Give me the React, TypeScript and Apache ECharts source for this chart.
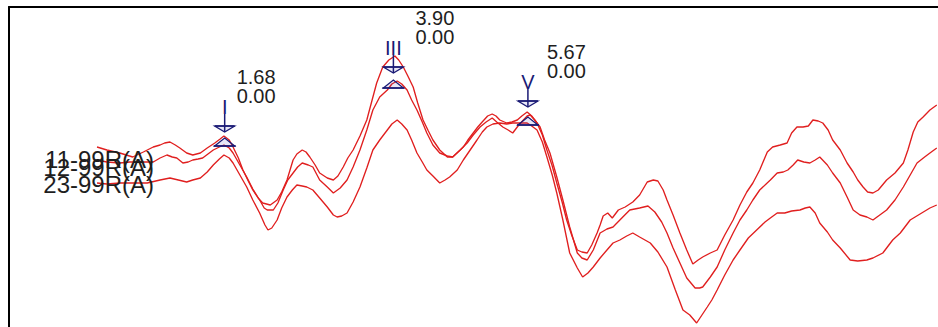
import React, { useEffect, useRef } from "react";
import * as echarts from "echarts";

// ---- Data (time in ms, amplitude in µV) ----
const traceNames = ["11-99R(A)", "12-99R(A)", "23-99R(A)"];

const trace11: number[][] = [
  [0, 0.23], [0.13, 0.2], [0.3, 0.17], [0.47, 0.13], [0.61, 0.18], [0.74, 0.23], [0.83, 0.25], [0.89, 0.27],
  [0.96, 0.28], [1.03, 0.25], [1.09, 0.22], [1.18, 0.17], [1.26, 0.15], [1.36, 0.17], [1.45, 0.22], [1.55, 0.27],
  [1.62, 0.31], [1.67, 0.34], [1.74, 0.3], [1.79, 0.23], [1.86, 0.12], [1.92, 0.0], [1.99, -0.11], [2.05, -0.2],
  [2.12, -0.28], [2.18, -0.33], [2.28, -0.35], [2.37, -0.3], [2.43, -0.22], [2.5, -0.1], [2.54, 0.0], [2.58, 0.1],
  [2.63, 0.16], [2.7, 0.2], [2.75, 0.18], [2.8, 0.13], [2.87, 0.05], [2.93, -0.03], [3.03, -0.08], [3.11, -0.1],
  [3.17, -0.06], [3.24, 0.03], [3.3, 0.12], [3.37, 0.2], [3.46, 0.34], [3.55, 0.5], [3.62, 0.7], [3.68, 0.87],
  [3.76, 1.03], [3.84, 1.1], [3.92, 1.14], [3.97, 1.1], [4.03, 1.03], [4.09, 0.94], [4.16, 0.83], [4.22, 0.67],
  [4.29, 0.5], [4.36, 0.39], [4.42, 0.3], [4.51, 0.2], [4.61, 0.13], [4.68, 0.13], [4.75, 0.18], [4.82, 0.23],
  [4.88, 0.3], [4.95, 0.37], [5.01, 0.43], [5.08, 0.49], [5.14, 0.54], [5.2, 0.56], [5.25, 0.54], [5.3, 0.5],
  [5.39, 0.47], [5.46, 0.48], [5.53, 0.5], [5.59, 0.54], [5.66, 0.58], [5.72, 0.54], [5.79, 0.47], [5.86, 0.35],
  [5.92, 0.2], [5.99, 0.04], [6.05, -0.13], [6.12, -0.32], [6.18, -0.5], [6.25, -0.66], [6.32, -0.8], [6.38, -0.82],
  [6.45, -0.83], [6.51, -0.75], [6.58, -0.63], [6.62, -0.55], [6.66, -0.46], [6.72, -0.43], [6.78, -0.48], [6.86, -0.4],
  [6.95, -0.37], [7.05, -0.32], [7.14, -0.25], [7.24, -0.12], [7.32, -0.1], [7.38, -0.11], [7.45, -0.2], [7.5, -0.3],
  [7.58, -0.45], [7.67, -0.63], [7.76, -0.8], [7.84, -0.94], [7.91, -0.9], [7.97, -0.87], [8.07, -0.83], [8.16, -0.8],
  [8.26, -0.65], [8.37, -0.5], [8.46, -0.35], [8.55, -0.22], [8.63, -0.13], [8.72, 0.0], [8.82, 0.18], [8.89, 0.23],
  [8.99, 0.25], [9.08, 0.27], [9.14, 0.37], [9.21, 0.43], [9.29, 0.43], [9.36, 0.44], [9.42, 0.5], [9.49, 0.49],
  [9.55, 0.47], [9.62, 0.4], [9.68, 0.3], [9.78, 0.2], [9.87, 0.07], [9.95, -0.02], [10.01, -0.1], [10.08, -0.17],
  [10.14, -0.22], [10.21, -0.23], [10.28, -0.2], [10.39, -0.1], [10.5, -0.03], [10.61, 0.07], [10.67, 0.2], [10.74, 0.38],
  [10.8, 0.48], [10.87, 0.53], [10.96, 0.6], [11.05, 0.65],
];

const trace12: number[][] = [
  [0, 0.1], [0.13, 0.08], [0.3, 0.07], [0.43, 0.08], [0.57, 0.08], [0.74, 0.08], [0.83, 0.12], [0.92, 0.15],
  [0.99, 0.13], [1.05, 0.12], [1.13, 0.07], [1.2, 0.08], [1.26, 0.1], [1.33, 0.11], [1.39, 0.12], [1.46, 0.16],
  [1.53, 0.2], [1.61, 0.23], [1.67, 0.25], [1.74, 0.22], [1.79, 0.17], [1.88, 0.05], [1.97, -0.07], [2.05, -0.19],
  [2.14, -0.3], [2.2, -0.38], [2.24, -0.4], [2.32, -0.4], [2.38, -0.33], [2.45, -0.2], [2.51, -0.1], [2.58, -0.03],
  [2.64, 0.03], [2.7, 0.07], [2.78, 0.05], [2.84, 0.03], [2.93, -0.1], [3.03, -0.17], [3.11, -0.23], [3.2, -0.18],
  [3.29, -0.1], [3.37, 0.03], [3.46, 0.2], [3.55, 0.4], [3.63, 0.6], [3.72, 0.73], [3.82, 0.8], [3.88, 0.86],
  [3.95, 0.89], [4.01, 0.86], [4.08, 0.8], [4.14, 0.7], [4.21, 0.6], [4.28, 0.48], [4.34, 0.37], [4.42, 0.25],
  [4.51, 0.17], [4.61, 0.14], [4.68, 0.13], [4.78, 0.2], [4.87, 0.27], [4.95, 0.35], [5.04, 0.43], [5.12, 0.48],
  [5.2, 0.52], [5.26, 0.48], [5.34, 0.43], [5.41, 0.4], [5.47, 0.37], [5.54, 0.44], [5.61, 0.5], [5.66, 0.54],
  [5.7, 0.55], [5.76, 0.5], [5.83, 0.43], [5.89, 0.3], [5.96, 0.17], [6.05, -0.07], [6.13, -0.3], [6.22, -0.57],
  [6.32, -0.83], [6.38, -0.88], [6.45, -0.9], [6.53, -0.8], [6.62, -0.63], [6.71, -0.59], [6.79, -0.57], [6.88, -0.5],
  [7.01, -0.4], [7.14, -0.38], [7.25, -0.36], [7.34, -0.42], [7.43, -0.52], [7.5, -0.63], [7.58, -0.78], [7.67, -0.93],
  [7.76, -1.08], [7.87, -1.18], [7.93, -1.18], [7.97, -1.17], [8.07, -1.07], [8.16, -0.97], [8.26, -0.8], [8.37, -0.63],
  [8.46, -0.5], [8.55, -0.4], [8.63, -0.3], [8.72, -0.2], [8.86, -0.1], [8.95, -0.03], [9.03, -0.02], [9.09, 0.0],
  [9.16, 0.05], [9.22, 0.1], [9.3, 0.08], [9.38, 0.07], [9.45, 0.1], [9.51, 0.13], [9.61, 0.05], [9.68, -0.03],
  [9.78, -0.13], [9.87, -0.27], [9.95, -0.4], [10.04, -0.45], [10.13, -0.47], [10.21, -0.5], [10.3, -0.45], [10.39, -0.4],
  [10.5, -0.3], [10.61, -0.17], [10.7, -0.05], [10.79, 0.07], [10.89, 0.13], [10.96, 0.17], [11.05, 0.22],
];

const trace23: number[][] = [
  [0, -0.13], [0.13, -0.14], [0.3, -0.13], [0.47, -0.13], [0.66, -0.13], [0.83, -0.1], [0.96, -0.08], [1.07, -0.1],
  [1.18, -0.12], [1.26, -0.1], [1.36, -0.08], [1.45, -0.02], [1.53, 0.05], [1.61, 0.11], [1.67, 0.15], [1.74, 0.12],
  [1.79, 0.07], [1.88, -0.05], [1.97, -0.17], [2.05, -0.3], [2.14, -0.43], [2.21, -0.55], [2.25, -0.6], [2.3, -0.58],
  [2.37, -0.5], [2.43, -0.38], [2.5, -0.27], [2.57, -0.2], [2.63, -0.15], [2.7, -0.16], [2.76, -0.17], [2.84, -0.2],
  [2.93, -0.28], [3.03, -0.37], [3.11, -0.45], [3.16, -0.47], [3.22, -0.46], [3.29, -0.43], [3.37, -0.32], [3.46, -0.17],
  [3.55, 0.02], [3.63, 0.2], [3.72, 0.3], [3.82, 0.4], [3.88, 0.46], [3.95, 0.5], [4.01, 0.46], [4.08, 0.4],
  [4.14, 0.3], [4.21, 0.17], [4.28, 0.08], [4.34, 0.0], [4.42, -0.06], [4.51, -0.13], [4.58, -0.1], [4.64, -0.07],
  [4.74, 0.0], [4.82, 0.1], [4.91, 0.2], [5.0, 0.3], [5.07, 0.38], [5.13, 0.43], [5.21, 0.46], [5.3, 0.47],
  [5.39, 0.46], [5.47, 0.47], [5.57, 0.47], [5.66, 0.47], [5.72, 0.44], [5.79, 0.4], [5.86, 0.28], [5.92, 0.13],
  [5.99, -0.05], [6.05, -0.23], [6.13, -0.5], [6.22, -0.83], [6.32, -0.98], [6.39, -1.07], [6.46, -1.03], [6.53, -0.97],
  [6.62, -0.88], [6.71, -0.8], [6.79, -0.73], [6.88, -0.7], [6.97, -0.66], [7.05, -0.63], [7.14, -0.67], [7.28, -0.73],
  [7.38, -0.82], [7.5, -0.97], [7.61, -1.2], [7.71, -1.4], [7.8, -1.45], [7.89, -1.53], [7.96, -1.45], [8.03, -1.37],
  [8.09, -1.3], [8.16, -1.2], [8.26, -1.05], [8.37, -0.9], [8.46, -0.8], [8.57, -0.68], [8.68, -0.6], [8.79, -0.52],
  [8.86, -0.48], [8.95, -0.43], [9.05, -0.43], [9.14, -0.41], [9.25, -0.4], [9.32, -0.38], [9.38, -0.37], [9.45, -0.43],
  [9.51, -0.53], [9.61, -0.62], [9.68, -0.7], [9.78, -0.78], [9.91, -0.9], [10.01, -0.91], [10.13, -0.9], [10.21, -0.88],
  [10.34, -0.83], [10.41, -0.76], [10.47, -0.7], [10.57, -0.63], [10.7, -0.5], [10.83, -0.44], [10.96, -0.38], [11.05, -0.35],
];

// Peak marks
const peakNames = ["I", "III", "V"];
const peakLatency = [1.68, 3.9, 5.67];
const peakAmplitudeText = ["0.00", "0.00", "0.00"];
const downMarkAmp = [0.38, 0.97, 0.63]; // apex of downward mark (trace 11)
const upMarkAmp = [0.32, 0.9, 0.53]; // apex of upward mark (trace 12)

// ---- Styles ----
const FONT = 'Arial, "Liberation Sans", sans-serif';
const RED = "#e01f1f";
const NAVY = "#1a1a75";
const TEXT = "#1e1e1e";
const latencyLabelDx = [12, 22, 19];

export default function App() {
  const ref = useRef<HTMLDivElement>(null);

  useEffect(() => {
    if (!ref.current) return;
    const chart = echarts.init(ref.current, null, { renderer: "svg" });

    const lineSeries = [trace11, trace12, trace23].map((d, i) => ({
      name: traceNames[i],
      type: "line",
      data: d,
      showSymbol: false,
      smooth: false,
      lineStyle: { color: RED, width: 1.35 },
      z: 2,
    }));

    const downData = peakLatency.map((t, i) => [t, downMarkAmp[i], i]);
    const upData = peakLatency.map((t, i) => [t, upMarkAmp[i], i]);

    const option: any = {
      animation: false,
      grid: { left: 9, top: 7, right: 0, bottom: 0, containLabel: false },
      xAxis: {
        type: "value",
        position: "top",
        min: -1.158,
        max: 11.066,
        axisLine: { show: true, onZero: false, lineStyle: { color: "#000", width: 2 } },
        axisTick: { show: false },
        axisLabel: { show: false },
        splitLine: { show: false },
      },
      yAxis: {
        type: "value",
        min: -1.57,
        max: 1.63,
        axisLine: { show: true, onZero: false, lineStyle: { color: "#000", width: 2 } },
        axisTick: { show: false },
        axisLabel: { show: false },
        splitLine: { show: false },
      },
      series: [
        ...lineSeries,
        {
          type: "custom",
          name: "downMarks",
          data: downData,
          encode: { x: 0, y: 1 },
          z: 5,
          renderItem: (params: any, api: any) => {
            const idx = api.value(2);
            const p = api.coord([api.value(0), api.value(1)]);
            const x = p[0];
            const y = p[1];
            const hw = 10;
            const th = 6;
            return {
              type: "group",
              children: [
                {
                  type: "polygon",
                  shape: { points: [[x - hw, y - th], [x + hw, y - th], [x, y]] },
                  style: { fill: "rgba(60,60,190,0.12)", stroke: NAVY, lineWidth: 1.2 },
                },
                {
                  type: "line",
                  shape: { x1: x - hw, y1: y - th, x2: x + hw, y2: y - th },
                  style: { stroke: NAVY, lineWidth: 1.7 },
                },
                {
                  type: "line",
                  shape: { x1: x, y1: y, x2: x, y2: y - th - 12 },
                  style: { stroke: NAVY, lineWidth: 1.5 },
                },
                {
                  type: "text",
                  style: {
                    text: peakNames[idx],
                    x: x,
                    y: y - th - 9,
                    align: "center",
                    verticalAlign: "bottom",
                    fontSize: 20,
                    fontFamily: FONT,
                    fill: NAVY,
                  },
                },
                {
                  type: "text",
                  style: {
                    text: peakLatency[idx].toFixed(2) + "\n" + peakAmplitudeText[idx],
                    x: x + latencyLabelDx[idx],
                    y: y - 65,
                    align: "left",
                    verticalAlign: "top",
                    fontSize: 20,
                    lineHeight: 19,
                    fontFamily: FONT,
                    fill: TEXT,
                  },
                },
              ],
            };
          },
        },
        {
          type: "custom",
          name: "upMarks",
          data: upData,
          encode: { x: 0, y: 1 },
          z: 5,
          renderItem: (params: any, api: any) => {
            const p = api.coord([api.value(0), api.value(1)]);
            const x = p[0];
            const y = p[1];
            const hw = 10;
            const th = 8;
            return {
              type: "group",
              children: [
                {
                  type: "polygon",
                  shape: { points: [[x - hw, y + th], [x + hw, y + th], [x, y]] },
                  style: { fill: "rgba(60,60,190,0.12)", stroke: NAVY, lineWidth: 1.2 },
                },
                {
                  type: "line",
                  shape: { x1: x - hw - 1, y1: y + th, x2: x + hw + 1, y2: y + th },
                  style: { stroke: NAVY, lineWidth: 1.7 },
                },
              ],
            };
          },
        },
      ],
      graphic: [
        { label: traceNames[0], y: 159 },
        { label: traceNames[1], y: 167 },
        { label: traceNames[2], y: 184 },
      ].map((g) => ({
        type: "text",
        x: 154,
        y: g.y,
        z: 100,
        style: {
          text: g.label,
          align: "right",
          verticalAlign: "middle",
          fontSize: 24,
          fontFamily: FONT,
          fill: TEXT,
        },
      })),
    };

    chart.setOption(option);
    return () => chart.dispose();
  }, []);

  return (
    <div
      ref={ref}
      style={{ position: "fixed", left: 0, top: 0, width: 938, height: 327, background: "#fff" }}
    />
  );
}
